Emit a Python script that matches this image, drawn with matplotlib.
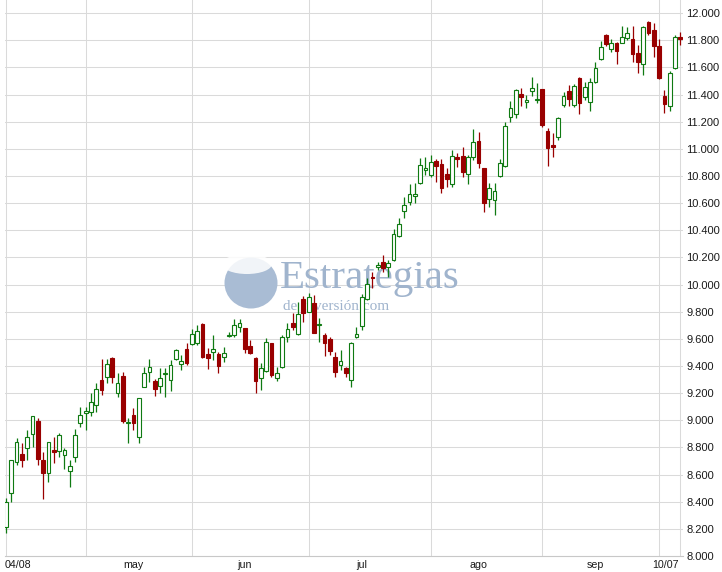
import matplotlib
matplotlib.use("Agg")
import matplotlib.pyplot as plt
import matplotlib.transforms as mtransforms
from matplotlib.patches import Rectangle, Ellipse
import pandas as pd

# ---- data (IBEX-like index, daily OHLC, points) ----
start_date = "2009-04-08"
end_date = "2009-10-07"
holidays = ["2009-04-10", "2009-04-13", "2009-05-01"]

opens = [8216, 8462, 8690, 8752, 8794, 8897, 8995, 8707, 8609, 8781, 8774, 8742, 8626, 8732, 8982, 9052,
         9063, 9113, 9297, 9317, 9457, 9199, 9326, 8978, 9039, 8879, 9248, 9358, 9292, 9253, 9341, 9297,
         9449, 9415, 9523, 9560, 9567, 9710, 9486, 9506, 9489, 9464, 9621, 9629, 9690, 9678, 9547, 9461,
         9309, 9366, 9567, 9309, 9391, 9616, 9719, 9636, 9892, 9800, 9867, 9702, 9629, 9597, 9469, 9407,
         9383, 9297, 9612, 9695, 9894, 10056, 10132, 10164, 10127, 10181, 10358, 10545, 10611, 10655, 10746, 10844,
         10808, 10911, 10886, 10813, 10741, 10942, 10950, 10813, 10938, 11058, 10857, 10629, 10623, 10802, 10874, 11237,
         11257, 11404, 11343, 11427, 11358, 11439, 11132, 11029, 11090, 11323, 11427, 11323, 11520, 11380, 11348, 11495,
         11660, 11839, 11734, 11778, 11783, 11815, 11808, 11704, 11626, 11937, 11876, 11758, 11390, 11316, 11594, 11822]
highs = [8427, 8710, 8867, 8830, 8929, 9035, 9019, 8769, 8840, 8875, 8909, 8794, 8707, 8934, 9100, 9100,
         9199, 9273, 9449, 9449, 9469, 9351, 9358, 9015, 9088, 9165, 9395, 9449, 9302, 9383, 9383, 9444,
         9523, 9481, 9567, 9671, 9702, 9715, 9531, 9629, 9506, 9542, 9653, 9744, 9744, 9682, 9592, 9469,
         9420, 9604, 9572, 9391, 9629, 9715, 9788, 9874, 9916, 9936, 9923, 9752, 9646, 9616, 9506, 9518,
         9395, 9579, 9690, 9931, 10046, 10095, 10169, 10218, 10181, 10407, 10489, 10643, 10741, 10751, 10931, 10942,
         10955, 10923, 10923, 10857, 10992, 10968, 11012, 10955, 11144, 11127, 10860, 10751, 10751, 10923, 11200, 11353,
         11439, 11446, 11397, 11528, 11483, 11442, 11152, 11115, 11233, 11421, 11471, 11478, 11532, 11495, 11520, 11643,
         11797, 11847, 11808, 11790, 11906, 11900, 11906, 11766, 11906, 11940, 11930, 11808, 11434, 11576, 11839, 11864]
lows = [8172, 8400, 8671, 8658, 8707, 8805, 8671, 8418, 8548, 8688, 8732, 8639, 8506, 8695, 8953, 8929,
        9032, 9063, 9186, 9273, 9273, 9174, 8982, 8830, 8929, 8830, 9243, 9284, 9181, 9203, 9174, 9218,
        9444, 9371, 9407, 9555, 9555, 9457, 9376, 9444, 9346, 9432, 9612, 9616, 9653, 9494, 9489, 9199,
        9223, 9358, 9321, 9290, 9383, 9579, 9665, 9629, 9727, 9800, 9641, 9579, 9474, 9481, 9321, 9371,
        9321, 9243, 9604, 9665, 9886, 9973, 10108, 10095, 10054, 10176, 10353, 10489, 10587, 10599, 10741, 10808,
        10795, 10758, 10673, 10721, 10717, 10869, 10791, 10741, 10918, 10857, 10537, 10574, 10513, 10795, 10869, 11200,
        11225, 11316, 11299, 11390, 11340, 11164, 10874, 10942, 11066, 11311, 11316, 11311, 11257, 11360, 11281, 11483,
        11655, 11758, 11716, 11626, 11778, 11802, 11643, 11561, 11545, 11839, 11679, 11513, 11267, 11281, 11586, 11766]
closes = [8400, 8707, 8838, 8707, 8875, 9032, 8715, 8614, 8838, 8769, 8889, 8781, 8663, 8892, 9041, 9071,
          9137, 9228, 9223, 9415, 9317, 9277, 8997, 8985, 8978, 9162, 9346, 9391, 9228, 9309, 9349, 9407,
          9518, 9437, 9420, 9634, 9660, 9464, 9457, 9523, 9400, 9498, 9629, 9702, 9715, 9523, 9498, 9290,
          9383, 9579, 9334, 9351, 9616, 9671, 9685, 9783, 9788, 9906, 9646, 9710, 9567, 9513, 9358, 9439,
          9346, 9572, 9634, 9905, 10004, 10049, 10142, 10125, 10157, 10371, 10444, 10587, 10668, 10668, 10881, 10857,
          10906, 10874, 10710, 10776, 10950, 10923, 10832, 10938, 11049, 10898, 10599, 10710, 10692, 10894, 11169, 11304,
          11434, 11380, 11360, 11446, 11365, 11176, 11004, 11016, 11225, 11390, 11365, 11463, 11340, 11454, 11495, 11594,
          11753, 11773, 11778, 11724, 11822, 11856, 11699, 11643, 11896, 11856, 11758, 11520, 11331, 11561, 11822, 11808]

month_labels = ["may", "jun", "jul", "ago", "sep"]
first_label = "04/08"
last_label = "10/07"
ytick_values = list(range(8000, 12001, 200))

# ---- build trading calendar ----
dates = pd.bdate_range(start_date, end_date)
dates = dates[~dates.isin(pd.to_datetime(holidays))]
n = len(dates)
idx = list(range(n))
months = dates.month
boundaries = [0] + [i for i in range(1, n) if months[i] != months[i - 1]] + [n - 1]
mid_month = []
for m in sorted(set(months))[1:-1]:
    cand = [i for i in range(n) if months[i] == m and dates[i].day <= 15]
    mid_month.append(cand[-1])

# ---- figure ----
W, H = 722, 572
fig = plt.figure(figsize=(W / 100, H / 100), dpi=100)
fig.patch.set_facecolor("white")
ax = fig.add_axes([5 / W, 16 / H, 678 / W, 556 / H])
ax.set_xlim(-0.19, n - 0.5)
ax.set_ylim(8000, 12097)

GREEN = "#0f7a12"
RED = "#990000"
GRID = "#dadada"
TXT = "#1a1a1a"
font = "Liberation Sans"

ax.set_yticks(ytick_values)
ax.set_yticklabels([f"{v:,}".replace(",", ".") for v in ytick_values])
ax.yaxis.tick_right()
ax.tick_params(axis="y", length=0, pad=2.2, labelsize=8, labelcolor=TXT)
ax.set_xticks([])
for s in ["top", "left", "right"]:
    ax.spines[s].set_visible(False)
ax.spines["bottom"].set_color("#c8c8c8")
ax.spines["bottom"].set_linewidth(0.8)
for t in ax.get_yticklabels():
    t.set_family(font)

for v in ytick_values:
    ax.axhline(v, color=GRID, lw=0.75, zorder=0.5)
for b in boundaries:
    ax.axvline(b, color=GRID, lw=0.75, zorder=0.5)

# x labels
lab_y = -9 / 556
trans = mtransforms.blended_transform_factory(ax.transData, ax.transAxes)
XFS = 7.7
ax.text(0, lab_y, first_label, transform=trans
        + mtransforms.ScaledTranslation(-1 / 100, 0, fig.dpi_scale_trans),
        ha="left", va="center", fontsize=XFS, family=font, color=TXT)
for lab, i in zip(month_labels, mid_month):
    ax.text(i, lab_y, lab, transform=trans, ha="center", va="center",
            fontsize=XFS, family=font, color=TXT)
ax.text(n - 1, lab_y, last_label, transform=trans
        + mtransforms.ScaledTranslation(-1.5 / 100, 0, fig.dpi_scale_trans),
        ha="right", va="center", fontsize=XFS, family=font, color=TXT)

# ---- watermark ----
px = mtransforms.Affine2D().scale(1 / W, -1 / H).translate(0, 1) + fig.transFigure
WM = "#a9bcd4"
ax.add_patch(Ellipse((251, 283), 53, 51, transform=px, facecolor=WM, edgecolor="none", zorder=1))
ax.add_patch(Ellipse((247, 264), 50, 20, transform=px, facecolor="white", edgecolor="none",
                     alpha=0.85, zorder=1.1))
ax.text(280, 288, "Estrategias", transform=px, fontsize=29.5, family="Liberation Serif",
        color="#a0b4cd", ha="left", va="baseline", zorder=1.2)
ax.text(283, 310, "de Inversión.com", transform=px, fontsize=11, family="Liberation Serif",
        color="#a0b4cd", ha="left", va="baseline", zorder=1.2)

# ---- candles ----
bw = 0.7
for i, o, h, l, c in zip(idx, opens, highs, lows, closes):
    up = c >= o
    col = GREEN if up else RED
    ax.vlines(i, l, h, color=col, lw=0.9, zorder=2)
    lo, hi = min(o, c), max(o, c)
    ax.add_patch(Rectangle((i - bw / 2, lo), bw, max(hi - lo, 4),
                           facecolor="white" if up else RED, edgecolor=col,
                           lw=0.8, zorder=3))

fig.savefig("out.png", dpi=100, facecolor="white")
